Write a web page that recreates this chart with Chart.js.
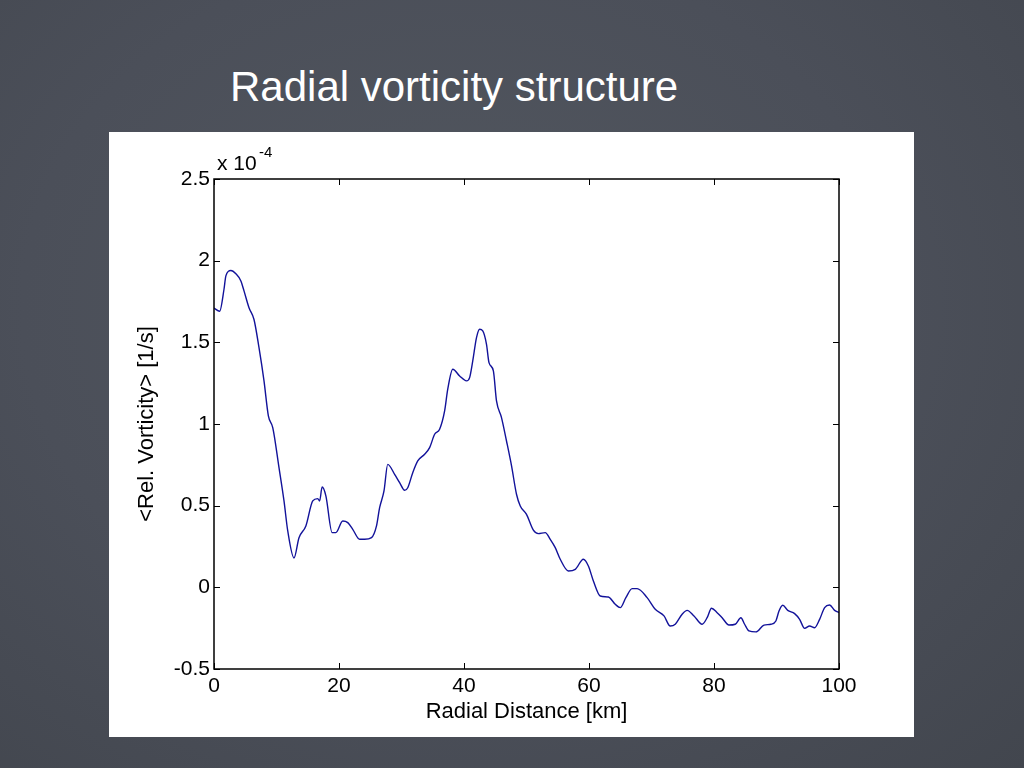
<!DOCTYPE html>
<html>
<head>
<meta charset="utf-8">
<script src="https://cdn.jsdelivr.net/npm/chart.js@4/dist/chart.umd.min.js"></script>
<style>
  html, body { margin: 0; padding: 0; }
  body {
    width: 1024px; height: 768px; overflow: hidden; position: relative;
    background: radial-gradient(ellipse at 45% 40%, #52575f 0%, #4b4f59 55%, #42464e 100%);
    font-family: "Liberation Sans", Arial, sans-serif;
  }
  #title {
    position: absolute; left: 230px; top: 63px;
    color: #ffffff; font-size: 42px; white-space: nowrap;
  }
  #panel {
    position: absolute; left: 109px; top: 132px; width: 805px; height: 605px;
    background: #ffffff;
  }
</style>
</head>
<body>
<div id="title">Radial vorticity structure</div>
<div id="panel"><canvas id="myChart" width="805" height="605"></canvas></div>
<script>
// radial distance in km
var radialKm = [0, 0.9, 1.6, 1.9, 2.7, 3.5, 4.3, 4.8, 5.6, 6.4, 7.2, 8.0, 8.7, 9.4, 10.4, 11.2, 11.8, 12.8, 13.6, 14.7,
  15.8, 16.6, 16.9, 17.3, 17.9, 18.9, 19.5, 20.6, 21.4, 22.2, 23.3, 24.1, 25.2, 26.0, 26.5, 27.2, 27.8, 28.9, 29.7, 30.5,
  31.0, 31.8, 32.6, 33.7, 34.5, 35.3, 36.1, 36.9, 37.4, 38.2, 39.3, 40.4, 40.9, 41.4, 42.0, 42.5, 43.0, 43.6, 44.0, 44.7,
  45.2, 46.0, 46.8, 47.6, 48.4, 49.0, 50.0, 51.1, 51.9, 53.0, 53.8, 54.6, 55.4, 56.7, 57.8, 59.1, 59.9, 60.7, 61.8, 63.1,
  64.2, 65.0, 65.9, 66.9, 67.7, 69.3, 70.6, 72.0, 73.0, 73.8, 74.9, 75.7, 76.8, 78.1, 78.9, 79.6, 80.5, 81.3, 82.4, 83.4,
  84.3, 84.9, 85.6, 86.7, 88.0, 89.1, 89.9, 90.4, 91.0, 91.8, 92.9, 93.7, 94.5, 95.3, 96.1, 96.9, 97.7, 98.5, 99.3, 100];
// relative vorticity, units of 1e-4 1/s
var vorticity = [1.71, 1.69, 1.825, 1.907, 1.94, 1.92, 1.876, 1.815, 1.712, 1.64, 1.467, 1.264, 1.05, 0.978, 0.733, 0.529, 0.345, 0.18, 0.304, 0.376,
  0.529, 0.543, 0.529, 0.614, 0.56, 0.335, 0.335, 0.406, 0.396, 0.355, 0.294, 0.294, 0.304, 0.376, 0.488, 0.59, 0.753, 0.692, 0.641, 0.594,
  0.61, 0.702, 0.774, 0.815, 0.855, 0.937, 0.968, 1.08, 1.213, 1.335, 1.294, 1.264, 1.284, 1.386, 1.529, 1.58, 1.57, 1.488, 1.376, 1.325,
  1.141, 1.039, 0.896, 0.745, 0.57, 0.498, 0.447, 0.35, 0.329, 0.335, 0.294, 0.243, 0.172, 0.1, 0.11, 0.172, 0.131, 0.039, -0.053, -0.059,
  -0.104, -0.124, -0.063, -0.008, -0.008, -0.063, -0.134, -0.175, -0.237, -0.226, -0.165, -0.141, -0.175, -0.226, -0.186, -0.128, -0.155, -0.186, -0.231, -0.226,
  -0.186, -0.226, -0.267, -0.273, -0.231, -0.226, -0.206, -0.145, -0.11, -0.141, -0.161, -0.196, -0.251, -0.237, -0.247, -0.196, -0.124, -0.108, -0.141, -0.155];

var xTicks = [0, 20, 40, 60, 80, 100];
var yTicks = [-0.5, 0, 0.5, 1, 1.5, 2, 2.5];

var points = [];
for (var i = 0; i < radialKm.length; i++) {
  points.push({ x: radialKm[i], y: vorticity[i] });
}

var fontFam = '"Liberation Sans", Arial, sans-serif';

// matlab style box with inward ticks + exponent label
var matlabBox = {
  id: 'matlabBox',
  afterDraw: function(chart) {
    var ctx = chart.ctx;
    var a = chart.chartArea;
    var xs = chart.scales.x, ys = chart.scales.y;
    ctx.save();
    ctx.strokeStyle = '#000';
    ctx.lineWidth = 1.5;
    ctx.strokeRect(a.left, a.top, a.right - a.left, a.bottom - a.top);
    ctx.lineWidth = 1;
    var tl = 6;
    xTicks.forEach(function(v) {
      var px = Math.round(xs.getPixelForValue(v)) + 0.5;
      ctx.beginPath();
      ctx.moveTo(px, a.bottom); ctx.lineTo(px, a.bottom - tl);
      ctx.moveTo(px, a.top); ctx.lineTo(px, a.top + tl);
      ctx.stroke();
    });
    yTicks.forEach(function(v) {
      var py = Math.round(ys.getPixelForValue(v)) + 0.5;
      ctx.beginPath();
      ctx.moveTo(a.left, py); ctx.lineTo(a.left + tl, py);
      ctx.moveTo(a.right, py); ctx.lineTo(a.right - tl, py);
      ctx.stroke();
    });
    ctx.fillStyle = '#000';
    ctx.textBaseline = 'alphabetic';
    ctx.textAlign = 'left';
    ctx.font = '21px ' + fontFam;
    ctx.fillText('x 10', a.left + 3, a.top - 9);
    ctx.font = '15px ' + fontFam;
    ctx.fillText('-4', a.left + 45, a.top - 22);
    ctx.restore();
  }
};

var ctx = document.getElementById('myChart').getContext('2d');
var myChart = new Chart(ctx, {
  type: 'line',
  data: {
    datasets: [{
      label: 'vorticity',
      data: points,
      borderColor: '#12129a',
      borderWidth: 1.4,
      pointRadius: 0,
      fill: false,
      cubicInterpolationMode: 'monotone'
    }]
  },
  options: {
    responsive: false,
    animation: false,
    events: [],
    layout: { padding: { top: 47, right: 75, left: 0, bottom: 0 } },
    plugins: { legend: { display: false }, tooltip: { enabled: false } },
    scales: {
      x: {
        type: 'linear',
        min: 0, max: 100,
        afterFit: function(s) { s.height = 68; },
        afterBuildTicks: function(s) { s.ticks = xTicks.map(function(v) { return { value: v }; }); },
        grid: { drawOnChartArea: false, drawTicks: false },
        border: { display: false },
        ticks: {
          color: '#000', padding: 5,
          font: { family: fontFam, size: 21 },
          callback: function(v) { return String(v); }
        },
        title: {
          display: true, text: 'Radial Distance [km]', color: '#000',
          font: { family: fontFam, size: 22 },
          padding: { top: 0, bottom: 12 }
        }
      },
      y: {
        type: 'linear',
        min: -0.5, max: 2.5,
        afterFit: function(s) { s.width = 105; },
        afterBuildTicks: function(s) { s.ticks = yTicks.map(function(v) { return { value: v }; }); },
        grid: { drawOnChartArea: false, drawTicks: false },
        border: { display: false },
        ticks: {
          color: '#000', padding: 4,
          font: { family: fontFam, size: 21 },
          callback: function(v) { return String(v); }
        },
        title: {
          display: true, text: '<Rel. Vorticity> [1/s]', color: '#000',
          font: { family: fontFam, size: 22 },
          padding: { top: 25, bottom: 0 }
        }
      }
    }
  },
  plugins: [matlabBox]
});
</script>
</body>
</html>
